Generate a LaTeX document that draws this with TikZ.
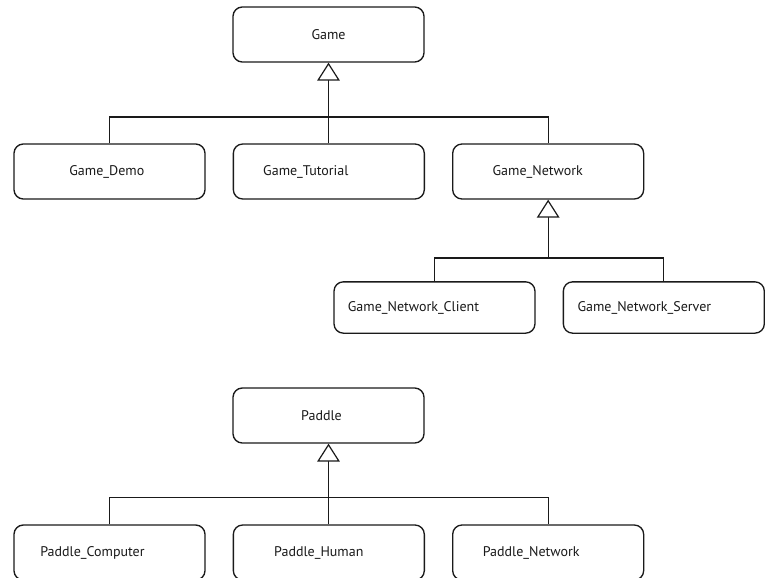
\documentclass[tikz,border=0pt]{standalone}
\usepackage{fontspec}
\setmainfont{PT Sans}
\usetikzlibrary{arrows.meta, positioning}
\definecolor{lineaUML}{HTML}{1A1A1A}

\begin{document}
\begin{tikzpicture}[x=0.75pt, y=-0.75pt, node distance=20.25pt,
        cls/.style={draw=lineaUML, line width=1pt, rounded corners=7pt, fill=white,
            minimum width=143.25pt, minimum height=41.25pt, inner sep=0pt,
            font=\fontsize{10.5}{12}\selectfont, text=lineaUML},
        clsw/.style={cls, minimum width=150.75pt, minimum height=38.5pt},
        nudge/.style={execute at end node={\hspace*{#1}}},
        lin/.style={draw=lineaUML, line width=0.9pt},
        inh/.style={lin, -{Triangle[length=13.5pt, width=17pt, fill=white]}}
    ]
        \useasboundingbox (0,0) rectangle (765,578);
        \clip (0,0) rectangle (765,578);
        % jerarquia Game
        \node[cls] (game) at (328.5,34.5) {Game};
        \node[cls, nudge=4pt] (demo) at (109.5,171.5) {Game\_Demo};
        \node[cls, nudge=34.5pt, right=of demo] (tut) {Game\_Tutorial};
        \node[cls, nudge=15.75pt, right=of tut] (net) {Game\_Network};
        \node[clsw, nudge=31.5pt] (client) at (434.5,307.5) {Game\_Network\_Client};
        \node[clsw, nudge=29.25pt, right=of client] (server) {Game\_Network\_Server};
        % jerarquia Paddle
        \node[cls, nudge=10.5pt] (paddle) at (328.5,415.5) {Paddle};
        \node[cls, nudge=25.5pt] (pcomp) at (109.5,552.5) {Paddle\_Computer};
        \node[cls, nudge=15pt, right=of pcomp] (phuman) {Paddle\_Human};
        \node[cls, nudge=25.5pt, right=of phuman] (pnet) {Paddle\_Network};
        % buses
        \coordinate (b1) at (game.south |- 0,117);
        \coordinate (b2) at (net.south |- 0,258);
        \coordinate (b3) at (paddle.south |- 0,497.5);
        \draw[inh] (b1) -- (game.south);
        \draw[lin] (demo.north) |- (b1) -| (net.north);
        \draw[lin] (tut.north) -- (tut.north |- b1);
        \draw[inh] (b2) -- (net.south);
        \draw[lin] (client.north) |- (b2) -| (server.north);
        \draw[inh] (b3) -- (paddle.south);
        \draw[lin] (pcomp.north) |- (b3) -| (pnet.north);
        \draw[lin] (phuman.north) -- (phuman.north |- b3);
    \end{tikzpicture}
\end{document}
